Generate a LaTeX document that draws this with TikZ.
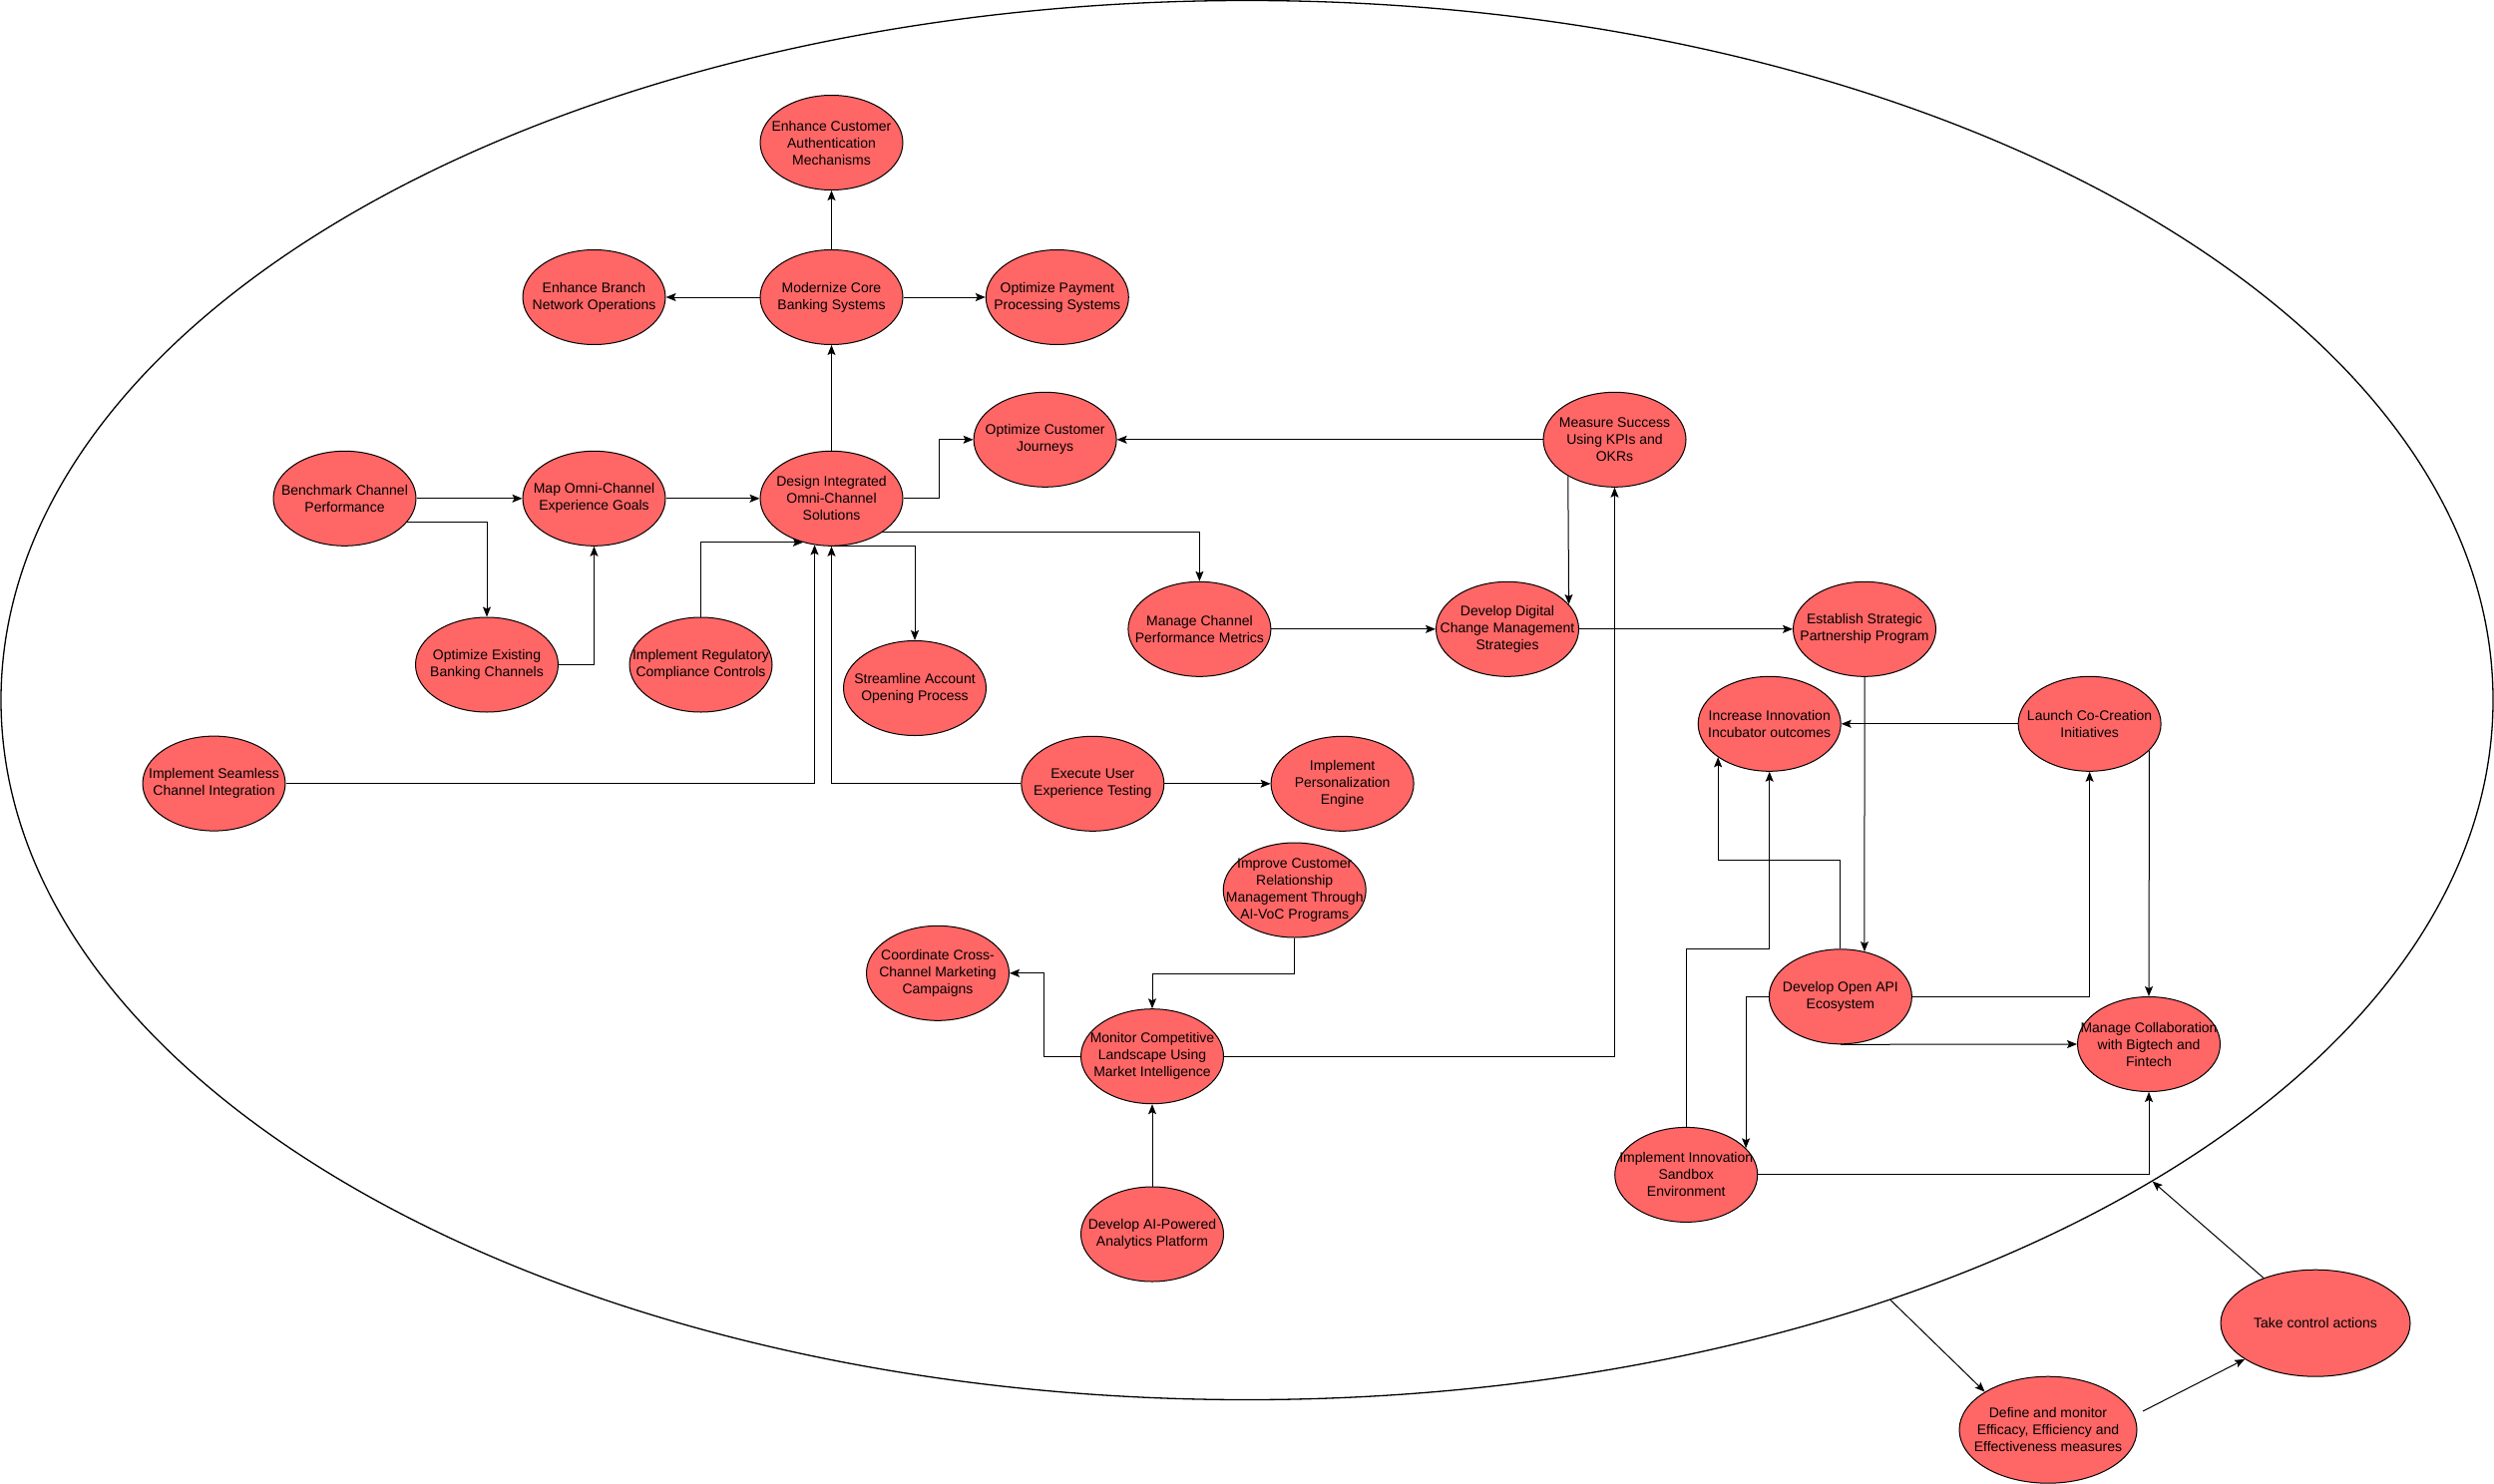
\documentclass[tikz,border=0pt]{standalone}
\usepackage{fontspec}
\setmainfont{Liberation Sans}
\usetikzlibrary{shapes.geometric,arrows.meta,calc}
\definecolor{bubred}{HTML}{FF6666}
\tikzset{
  bub/.style={ellipse, draw=black, fill=bubred, line width=1pt, minimum width=143pt, minimum height=95pt, inner sep=0pt},
  bigbub/.style={ellipse, draw=black, fill=bubred, line width=1pt, inner sep=0pt},
  txt/.style={align=center, font=\fontsize{14}{17}\selectfont, inner sep=0pt, text=black},
  arr/.style={-{Stealth[length=10pt,width=8pt,inset=2pt]}, line width=1pt},
}
\begin{document}
\begin{tikzpicture}[x=1pt,y=-1pt]
\useasboundingbox (0,0) rectangle (2500,1488);
% outer ellipse
\node[ellipse, draw=black, line width=1.3pt, minimum width=2498pt, minimum height=1403pt, inner sep=0pt] (outer) at (1250,702) {};

% nodes
\node[bub] (ecam) at (833.5,143) {};   \node[txt] (ecam-t) at (ecam) {Enhance Customer\\Authentication\\Mechanisms};
\node[bub] (mcbs) at (833.5,298) {};   \node[txt] (mcbs-t) at (mcbs) {Modernize Core\\Banking Systems};
\node[bub] (ebno) at (595.5,298) {};   \node[txt] (ebno-t) at (ebno) {Enhance Branch\\Network Operations};
\node[bub] (opps) at (1059.8,298) {};  \node[txt] (opps-t) at (opps) {Optimize Payment\\Processing Systems};
\node[bub] (ocj) at (1047.6,440.8) {}; \node[txt] (ocj-t) at (ocj) {Optimize Customer\\Journeys};
\node[bub] (bcp) at (345.5,499.8) {};  \node[txt] (bcp-t) at (bcp) {Benchmark Channel\\Performance};
\node[bub] (moeg) at (595.5,499.8) {}; \node[txt] (moeg-t) at (moeg) {Map Omni-Channel\\Experience Goals};
\node[bub] (dios) at (833.5,499.8) {}; \node[txt] (dios-t) at (dios) {Design Integrated\\Omni-Channel\\Solutions};
\node[bub] (msuk) at (1618.5,440.8) {};\node[txt] (msuk-t) at (msuk) {Measure Success\\Using KPIs and\\OKRs};
\node[bub] (oebc) at (488,666.5) {};   \node[txt] (oebc-t) at (oebc) {Optimize Existing\\Banking Channels};
\node[bub] (ircc) at (702.5,666.5) {}; \node[txt] (ircc-t) at (ircc) {Implement Regulatory\\Compliance Controls};
\node[bub] (saop) at (917,690) {};     \node[txt] (saop-t) at (saop) {Streamline Account\\Opening Process};
\node[bub] (mcpm) at (1202.4,630.8) {};\node[txt] (mcpm-t) at (mcpm) {Manage Channel\\Performance Metrics};
\node[bub] (ddcm) at (1511,630.8) {};  \node[txt] (ddcm-t) at (ddcm) {Develop Digital\\Change Management\\Strategies};
\node[bub] (esp) at (1869,630.8) {};   \node[txt] (esp-t) at (esp) {Establish Strategic\\Partnership Program};
\node[bub] (iiio) at (1773.7,725.8) {};\node[txt] (iiio-t) at (iiio) {Increase Innovation\\Incubator outcomes};
\node[bub] (lcci) at (2094.6,725.8) {};\node[txt] (lcci-t) at (lcci) {Launch Co-Creation\\Initiatives};
\node[bub] (isci) at (214.5,785.6) {}; \node[txt] (isci-t) at (isci) {Implement Seamless\\Channel Integration};
\node[bub] (euet) at (1095.3,785.8) {};\node[txt] (euet-t) at (euet) {Execute User\\Experience Testing};
\node[bub] (ipe) at (1345.6,785.8) {}; \node[txt] (ipe-t) at (ipe) {Implement\\Personalization\\Engine};
\node[bub] (icrm) at (1297.7,892.5) {};\node[txt] (icrm-t) at (icrm) {Improve Customer\\Relationship\\Management Through\\AI-VoC Programs};
\node[bub] (ccmc) at (940,975.8) {};   \node[txt] (ccmc-t) at (ccmc) {Coordinate Cross-\\Channel Marketing\\Campaigns};
\node[bub] (doae) at (1844.9,999.3) {};\node[txt] (doae-t) at (doae) {Develop Open API\\Ecosystem};
\node[bub] (mcbf) at (2154,1047) {};   \node[txt] (mcbf-t) at (mcbf) {Manage Collaboration\\with Bigtech and\\Fintech};
\node[bub] (mcl) at (1155,1059.2) {};  \node[txt] (mcl-t) at (mcl) {Monitor Competitive\\Landscape Using\\Market Intelligence};
\node[bub] (iise) at (1690.2,1177.9) {};\node[txt] (iise-t) at (iise) {Implement Innovation\\Sandbox\\Environment};
\node[bub] (daap) at (1155,1237.5) {}; \node[txt] (daap-t) at (daap) {Develop AI-Powered\\Analytics Platform};
\node[bigbub, minimum width=178pt, minimum height=107pt] (define) at (2053,1433.7) {};
\node[txt] (define-t) at (define) {Define and monitor\\Efficacy, Efficiency and\\Effectiveness measures};
\node[bigbub, minimum width=190pt, minimum height=107pt] (take) at (2321,1326.7) {};
\node[txt] (take-t) at (take) {Take control actions};

% connectors
\draw[arr] (mcbs) -- (ecam);
\draw[arr] (mcbs) -- (ebno);
\draw[arr] (mcbs) -- (opps);
\draw[arr] (dios) -- (mcbs);
\draw[arr] (dios.east) -- ++(36,0) |- (ocj.west);
\draw[arr] (dios.-34) -| (mcpm.north);
\draw[arr] (bcp) -- (moeg);
\draw[arr] (bcp.-21) -| (oebc.north);
\draw[arr] (oebc.east) -| (moeg.south);
\draw[arr] (moeg) -- (dios);
\draw[arr] (ircc.north) |- (dios.237);
\draw[arr] (isci.east) -| (dios.250);
\draw[arr] (euet.west) -| (dios.south);
\draw[arr] (dios.south) -| (saop.north);
\draw[arr] (msuk) -- (ocj);
\draw[arr] (msuk.218.2) -- (ddcm.22.1);
\draw[arr] (mcpm) -- (ddcm);
\draw[arr] (ddcm) -- (esp);
\draw[arr] (esp.south) -- (doae.62.5);
\draw[arr] (lcci) -- (iiio);
\draw[arr] (doae.north) -- ++(0,-89) -| (iiio.213.3);
\draw[arr] (iise.north) -- ++(0,-178.4) -| (iiio.south);
\draw[arr] (doae.east) -| (lcci.south);
\draw[arr] (doae.south) -- (mcbf.west);
\draw[arr] (doae.west) -| (iise.24);
\draw[arr] (lcci.-24.4) -- (mcbf.north);
\draw[arr] (iise.east) -| (mcbf.south);
\draw[arr] (icrm.south) -- ++(0,35.7) -| (mcl.north);
\draw[arr] (mcl.west) -- ++(-36.4,0) |- (ccmc.east);
\draw[arr] (daap) -- (mcl);
\draw[arr] (mcl.east) -| (msuk.south);
\draw[arr] (euet) -- (ipe);
\draw[arr] (outer.-43.1) -- (define.149);
\coordinate (dstart) at (2148,1415);
\draw[arr] (dstart) -- (take);
\draw[arr] (take) -- (outer.-28);
\end{tikzpicture}
\end{document}
